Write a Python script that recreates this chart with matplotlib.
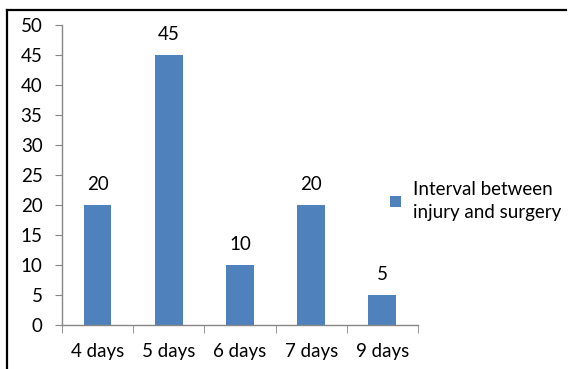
import matplotlib
matplotlib.use("Agg")
import matplotlib.pyplot as plt
from matplotlib.lines import Line2D

categories = ["4 days", "5 days", "6 days", "7 days", "9 days"]
values = [20, 45, 10, 20, 5]
series_name = "Interval between\ninjury and surgery"
y_ticks = [0, 5, 10, 15, 20, 25, 30, 35, 40, 45, 50]

plt.rcParams['font.family'] = ['Lato', 'DejaVu Sans']
FS = 13.5

fig = plt.figure(figsize=(5.71, 3.69), dpi=100)
ax = fig.add_axes([0.1086, 0.1192, 0.6234, 0.813])

x = list(range(len(categories)))
bars = ax.bar(x, values, width=0.39, color="#4F81BD", label=series_name, zorder=2)
for xi, v in zip(x, values):
    ax.text(xi, v + 2.0, str(v), ha="center", va="bottom", fontsize=FS, color="#000000")

ax.set_xlim(-0.5, len(categories) - 0.5)
ax.set_ylim(0, 50)
ax.set_yticks(y_ticks)
ax.set_yticklabels([str(t) for t in y_ticks], fontsize=FS, color="#000000")

# category labels centered, ticks on category boundaries
ax.set_xticks(x)
ax.set_xticklabels(categories, fontsize=FS, color="#000000")
ax.tick_params(axis="x", length=0, pad=13)
ax.set_xticks([i - 0.5 for i in range(len(categories) + 1)], minor=True)
ax.tick_params(axis="x", which="minor", length=6, color="#868686", direction="out")
ax.tick_params(axis="y", length=5, color="#868686", direction="out", pad=9)

for side in ("top", "right"):
    ax.spines[side].set_visible(False)
for side in ("left", "bottom"):
    ax.spines[side].set_color("#868686")
    ax.spines[side].set_linewidth(1.0)

leg = fig.legend(handles=[bars], labels=[series_name], loc="upper left",
                 bbox_to_anchor=(0.670, 0.530), frameon=False, fontsize=FS,
                 handlelength=0.6, handleheight=0.6, handletextpad=0.6,
                 borderaxespad=0)
for t in leg.get_texts():
    t.set_color("#000000")
    t.set_linespacing(1.45)

# frame lines at the top and left edge of the figure
fig.add_artist(Line2D([0.0123, 0.992], [0.973, 0.973], color="black", lw=1.6,
                      transform=fig.transFigure))
fig.add_artist(Line2D([0.0123, 0.0123], [0.0, 0.973], color="black", lw=1.6,
                      transform=fig.transFigure))

fig.savefig("out.png", dpi=100)
